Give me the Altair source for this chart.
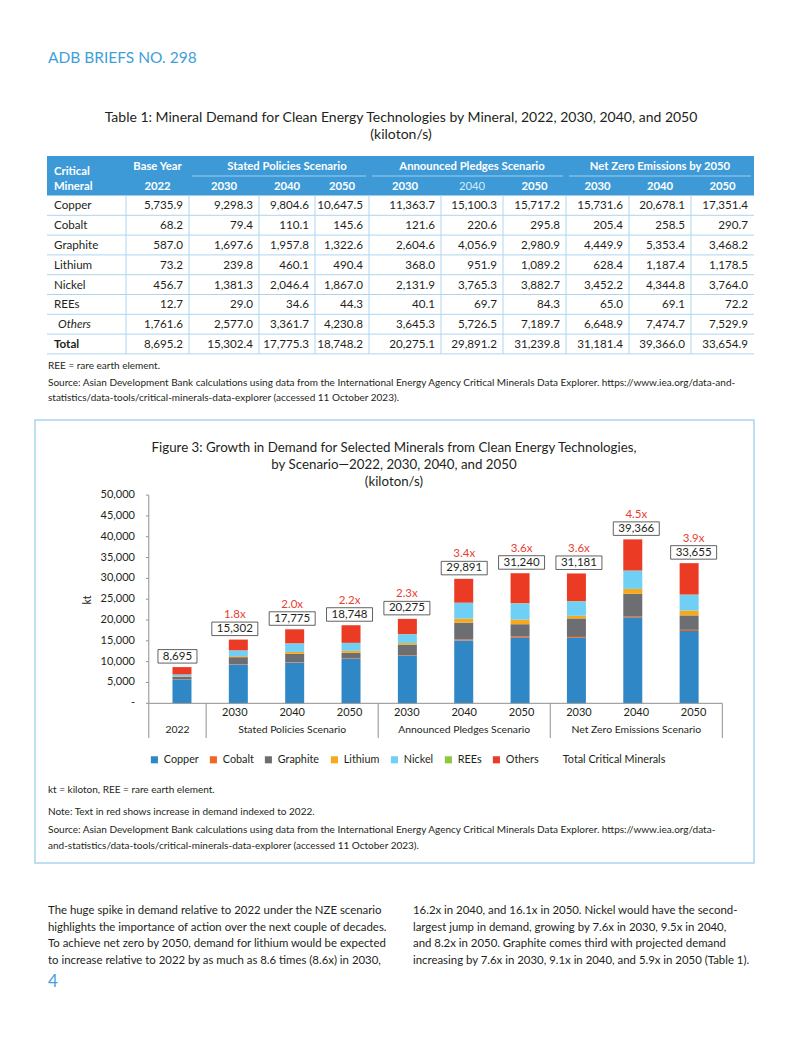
import altair as alt
import pandas as pd

FONT = "Lato"
DARK = "#231f20"
BLUE_TXT = "#3fa0d9"
HEAD_BLUE = "#3d9ad6"
GRID = "#aed5f0"
BOXLINE = "#a9d3ef"
RED = "#e8402f"
AXIS = "#8f8f8f"

# ------------------------------------------------------------------ data
minerals = ["Copper", "Cobalt", "Graphite", "Lithium", "Nickel", "REEs", "Others"]
copper = [5735.9, 9298.3, 9804.6, 10647.5, 11363.7, 15100.3, 15717.2, 15731.6, 20678.1, 17351.4]
cobalt = [68.2, 79.4, 110.1, 145.6, 121.6, 220.6, 295.8, 205.4, 258.5, 290.7]
graphite = [587.0, 1697.6, 1957.8, 1322.6, 2604.6, 4056.9, 2980.9, 4449.9, 5353.4, 3468.2]
lithium = [73.2, 239.8, 460.1, 490.4, 368.0, 951.9, 1089.2, 628.4, 1187.4, 1178.5]
nickel = [456.7, 1381.3, 2046.4, 1867.0, 2131.9, 3765.3, 3882.7, 3452.2, 4344.8, 3764.0]
rees = [12.7, 29.0, 34.6, 44.3, 40.1, 69.7, 84.3, 65.0, 69.1, 72.2]
others = [1761.6, 2577.0, 3361.7, 4230.8, 3645.3, 5726.5, 7189.7, 6648.9, 7474.7, 7529.9]
total = [8695.2, 15302.4, 17775.3, 18748.2, 20275.1, 29891.2, 31239.8, 31181.4, 39366.0, 33654.9]

col_years = ["2022", "2030", "2040", "2050", "2030", "2040", "2050", "2030", "2040", "2050"]
table_groups = [("Base Year", 1), ("Stated Policies Scenario", 3),
                ("Announced Pledges Scenario", 3), ("Net Zero Emissions by 2050", 3)]
chart_groups = [("2022", 1), ("Stated Policies Scenario", 3),
                ("Announced Pledges Scenario", 3), ("Net Zero Emissions Scenario", 3)]
growth_labels = ["", "1.8x", "2.0x", "2.2x", "2.3x", "3.4x", "3.6x", "3.6x", "4.5x", "3.9x"]
y_ticks = [0, 5000, 10000, 15000, 20000, 25000, 30000, 35000, 40000, 45000, 50000]
legend_extra = "Total Critical Minerals"
mineral_colors = ["#2f87c6", "#f26522", "#6d6e71", "#f7a81b", "#6fcff5", "#8dc63f", "#ec3b25"]

series = [copper, cobalt, graphite, lithium, nickel, rees, others]

# ------------------------------------------------------------------ layout
W, H = 786, 1000
OX, OY = 8, 8


def px(x):
    return x - OX


def py(y):
    return y - OY


ONE = pd.DataFrame({"_": [0]})


def T(s, x, y, size=12, color=DARK, align="left", weight="normal", style="normal", angle=0):
    return alt.Chart(ONE).mark_text(
        text=s, align=align, baseline="middle", font=FONT, fontSize=size,
        color=color, fontWeight=weight, fontStyle=style, angle=angle
    ).encode(x=alt.value(px(x)), y=alt.value(py(y)))


layers = []

# header
layers.append(T("ADB BRIEFS NO. 298", 48, 58, size=15.5, color=BLUE_TXT))

# table title
layers.append(T("Table 1: Mineral Demand for Clean Energy Technologies by Mineral, 2022, 2030, 2040, and 2050",
                401, 118, size=14, align="center"))
layers.append(T("(kiloton/s)", 401, 135, size=14, align="center"))

# ------------------------------------------------------------------ table
col_edges = [47, 126, 189, 259, 315, 369, 441, 503, 566, 629, 691, 754]
XS = alt.Scale(domain=list(range(len(col_edges))), range=[px(v) for v in col_edges], zero=False, nice=False)
YS = alt.Scale(domain=[0, 8], range=[py(195.5), py(353.9)], zero=False, nice=False)
HF = 11.3   # header font size
CF = 11.6   # cell font size

layers.append(alt.Chart(ONE).mark_rect(color=HEAD_BLUE).encode(
    x=alt.value(px(47)), x2=alt.value(px(754)), y=alt.value(py(156)), y2=alt.value(py(195.5))))

layers.append(T("Critical", 54, 172, size=HF, color="white", weight="bold"))
layers.append(T("Mineral", 54, 187, size=HF, color="white", weight="bold"))

grp_rows = []
start = 1
for name, n in table_groups:
    grp_rows.append({"name": name, "a": start, "b": start + n, "c": start + n / 2, "under": n > 1})
    start += n
grp_df = pd.DataFrame(grp_rows)
layers.append(alt.Chart(grp_df).mark_text(
    font=FONT, fontSize=HF, fontWeight="bold", color="white", baseline="middle", align="center"
).encode(x=alt.X("c:Q", scale=XS, axis=None), y=alt.value(py(166.5)), text="name:N"))
layers.append(alt.Chart(grp_df).transform_filter("datum.under").mark_rule(
    color="#9fd0f2", strokeWidth=1, xOffset=3, x2Offset=-3
).encode(x=alt.X("a:Q", scale=XS, axis=None), x2="b:Q", y=alt.value(py(176))))

yr_df = pd.DataFrame({"c": [i + 1.5 for i in range(len(col_years))], "yr": col_years,
                      "light": [i == 5 for i in range(len(col_years))]})
layers.append(alt.Chart(yr_df).transform_filter("!datum.light").mark_text(
    font=FONT, fontSize=HF, fontWeight="bold", color="white", baseline="middle", align="center"
).encode(x=alt.X("c:Q", scale=XS, axis=None), y=alt.value(py(186.5)), text="yr:N"))
layers.append(alt.Chart(yr_df).transform_filter("datum.light").mark_text(
    font=FONT, fontSize=HF, color="#d4eaf9", baseline="middle", align="center"
).encode(x=alt.X("c:Q", scale=XS, axis=None), y=alt.value(py(186.5)), text="yr:N"))

# grid lines
hl = pd.DataFrame({"r": list(range(1, 9)), "a": 0, "b": len(col_edges) - 1})
layers.append(alt.Chart(hl).mark_rule(color=GRID, strokeWidth=1).encode(
    x=alt.X("a:Q", scale=XS, axis=None), x2="b:Q", y=alt.Y("r:Q", scale=YS, axis=None)))
vl = pd.DataFrame({"c": list(range(1, len(col_edges) - 1)), "t": 0, "u": 8})
layers.append(alt.Chart(vl).mark_rule(color=GRID, strokeWidth=1).encode(
    x=alt.X("c:Q", scale=XS, axis=None), y=alt.Y("t:Q", scale=YS, axis=None), y2="u:Q"))

# row names
row_names = minerals + ["Total"]
names_df = pd.DataFrame({"ry": [i + 0.55 for i in range(len(row_names))], "name": row_names,
                         "kind": ["n"] * 6 + ["i", "b"]})
layers.append(alt.Chart(names_df).transform_filter("datum.kind == 'n'").mark_text(
    font=FONT, fontSize=CF, color=DARK, align="left", baseline="middle"
).encode(x=alt.value(px(54)), y=alt.Y("ry:Q", scale=YS, axis=None), text="name:N"))
layers.append(alt.Chart(names_df).transform_filter("datum.kind == 'i'").mark_text(
    font=FONT, fontSize=CF, color=DARK, align="left", baseline="middle", fontStyle="italic"
).encode(x=alt.value(px(58)), y=alt.Y("ry:Q", scale=YS, axis=None), text="name:N"))
layers.append(alt.Chart(names_df).transform_filter("datum.kind == 'b'").mark_text(
    font=FONT, fontSize=CF, color=DARK, align="left", baseline="middle", fontWeight="bold"
).encode(x=alt.value(px(54)), y=alt.Y("ry:Q", scale=YS, axis=None), text="name:N"))

# values
cells = []
for r, vals in enumerate(series + [total]):
    for c, v in enumerate(vals):
        cells.append({"xr": c + 2, "ry": r + 0.55, "label": f"{v:,.1f}"})
cells_df = pd.DataFrame(cells)
layers.append(alt.Chart(cells_df).mark_text(
    font=FONT, fontSize=CF, color=DARK, align="right", baseline="middle", dx=-6
).encode(x=alt.X("xr:Q", scale=XS, axis=None), y=alt.Y("ry:Q", scale=YS, axis=None), text="label:N"))

# table notes
layers.append(T("REE = rare earth element.", 48, 366, size=10))
layers.append(T("Source: Asian Development Bank calculations using data from the International Energy Agency Critical Minerals Data Explorer. https://www.iea.org/data-and-",
                48, 383, size=10))
layers.append(T("statistics/data-tools/critical-minerals-data-explorer (accessed 11 October 2023).", 48, 398, size=10))

# ------------------------------------------------------------------ figure box
layers.append(alt.Chart(ONE).mark_rect(fillOpacity=0, stroke=BOXLINE, strokeWidth=1.5).encode(
    x=alt.value(px(35)), x2=alt.value(px(754)), y=alt.value(py(420)), y2=alt.value(py(863))))

layers.append(T("Figure 3: Growth in Demand for Selected Minerals from Clean Energy Technologies,", 394, 448,
                size=13.3, align="center"))
layers.append(T("by Scenario\u20142022, 2030, 2040, and 2050", 394, 465, size=13.3, align="center"))
layers.append(T("(kiloton/s)", 394, 482, size=13.3, align="center"))

CX = alt.Scale(domain=[0, 10], range=[px(148.8), px(722.3)], zero=False, nice=False)
CY = alt.Scale(domain=[0, 50000], range=[py(703.3), py(495.1)], zero=False, nice=False)

# bars
bar_rows = []
for k in range(len(col_years)):
    for m, name in enumerate(minerals):
        bar_rows.append({"xc": k + 0.5, "mineral": name, "value": series[m][k], "ord": m})
bar_df = pd.DataFrame(bar_rows)
layers.append(alt.Chart(bar_df).mark_bar(size=19).encode(
    x=alt.X("xc:Q", scale=CX, axis=None),
    y=alt.Y("value:Q", stack="zero", scale=CY, axis=None),
    color=alt.Color("mineral:N",
                    scale=alt.Scale(domain=minerals + [legend_extra], range=mineral_colors + ["#ffffff"]),
                    legend=alt.Legend(orient="none", legendX=px(149), legendY=py(754), direction="horizontal",
                                      columns=8, title=None, symbolType="square", symbolSize=50,
                                      symbolStrokeWidth=0, labelFont=FONT, labelFontSize=10.8,
                                      labelColor=DARK, labelOffset=4, columnPadding=9, labelLimit=0)),
    order=alt.Order("ord:Q", sort="ascending"),
))

# total labels
tot_df = pd.DataFrame({"xc": [k + 0.5 for k in range(len(total))], "total": total,
                       "label": [f"{round(t):,}" for t in total], "g": growth_labels})
layers.append(alt.Chart(tot_df).transform_filter("datum.total < 10000").mark_rect(
    fill="white", stroke="#3a3a3a", strokeWidth=0.8, xOffset=-19.5, x2Offset=19.5, yOffset=-17.5, y2Offset=-4
).encode(x=alt.X("xc:Q", scale=CX, axis=None), x2="xc:Q", y=alt.Y("total:Q", scale=CY, axis=None), y2="total:Q"))
layers.append(alt.Chart(tot_df).transform_filter("datum.total >= 10000").mark_rect(
    fill="white", stroke="#3a3a3a", strokeWidth=0.8, xOffset=-23, x2Offset=23, yOffset=-17.5, y2Offset=-4
).encode(x=alt.X("xc:Q", scale=CX, axis=None), x2="xc:Q", y=alt.Y("total:Q", scale=CY, axis=None), y2="total:Q"))
layers.append(alt.Chart(tot_df).mark_text(
    font=FONT, fontSize=11.5, color=DARK, align="center", baseline="middle", dy=-10.5
).encode(x=alt.X("xc:Q", scale=CX, axis=None), y=alt.Y("total:Q", scale=CY, axis=None), text="label:N"))
layers.append(alt.Chart(tot_df).transform_filter("datum.g != ''").mark_text(
    font=FONT, fontSize=11.5, color=RED, align="center", baseline="middle", dy=-24.5
).encode(x=alt.X("xc:Q", scale=CX, axis=None), y=alt.Y("total:Q", scale=CY, axis=None), text="g:N"))

# y axis labels and ticks
tick_df = pd.DataFrame({"t": y_ticks, "label": ["-" if t == 0 else f"{t:,}" for t in y_ticks]})
layers.append(alt.Chart(tick_df).mark_text(
    font=FONT, fontSize=11, color=DARK, align="right", baseline="middle"
).encode(x=alt.value(px(135)), y=alt.Y("t:Q", scale=CY, axis=None), text="label:N"))
layers.append(alt.Chart(tick_df).mark_rule(color=AXIS, strokeWidth=1).encode(
    x=alt.value(px(146)), x2=alt.value(px(148.5)), y=alt.Y("t:Q", scale=CY, axis=None)))
layers.append(T("kt", 88, 600, size=10.5, angle=270, align="center"))

# axis frame
layers.append(alt.Chart(pd.DataFrame({"a": [0], "b": [10], "v": [0]})).mark_rule(color=AXIS, strokeWidth=1).encode(
    x=alt.X("a:Q", scale=CX, axis=None), x2="b:Q", y=alt.Y("v:Q", scale=CY, axis=None)))
layers.append(alt.Chart(pd.DataFrame({"a": [0], "top": [50000]})).mark_rule(color=AXIS, strokeWidth=1).encode(
    x=alt.X("a:Q", scale=CX, axis=None), y=alt.Y("top:Q", scale=CY, axis=None), y2=alt.value(py(738))))
bounds = []
pos = 0
for name, n in chart_groups:
    pos += n
    bounds.append(pos)
sep_df = pd.DataFrame({"s": bounds, "v": 0})
layers.append(alt.Chart(sep_df).mark_rule(color=AXIS, strokeWidth=1).encode(
    x=alt.X("s:Q", scale=CX, axis=None), y=alt.Y("v:Q", scale=CY, axis=None), y2=alt.value(py(738))))

# category labels
cat_df = pd.DataFrame({"xc": [k + 0.5 for k in range(1, len(col_years))], "yr": col_years[1:]})
layers.append(alt.Chart(cat_df).mark_text(
    font=FONT, fontSize=11, color=DARK, align="center", baseline="middle"
).encode(x=alt.X("xc:Q", scale=CX, axis=None), y=alt.value(py(713)), text="yr:N"))
g_rows = []
pos = 0
for name, n in chart_groups:
    g_rows.append({"xc": pos + n / 2, "name": name})
    pos += n
layers.append(alt.Chart(pd.DataFrame(g_rows)).mark_text(
    font=FONT, fontSize=10.4, color=DARK, align="center", baseline="middle"
).encode(x=alt.X("xc:Q", scale=CX, axis=None), y=alt.value(py(729.5)), text="name:N"))

# figure notes
layers.append(T("kt = kiloton, REE = rare earth element.", 48, 790, size=10))
layers.append(T("Note: Text in red shows increase in demand indexed to 2022.", 48, 812, size=10))
layers.append(T("Source: Asian Development Bank calculations using data from the International Energy Agency Critical Minerals Data Explorer. https://www.iea.org/data-",
                48, 830, size=10))
layers.append(T("and-statistics/data-tools/critical-minerals-data-explorer (accessed 11 October 2023).", 48, 846, size=10))

# body text
left_lines = [
    "The huge spike in demand relative to 2022 under the NZE scenario",
    "highlights the importance of action over the next couple of decades.",
    "To achieve net zero by 2050, demand for lithium would be expected",
    "to increase relative to 2022 by as much as 8.6 times (8.6x) in 2030,",
]
right_lines = [
    "16.2x in 2040, and 16.1x in 2050. Nickel would have the second-",
    "largest jump in demand, growing by 7.6x in 2030, 9.5x in 2040,",
    "and 8.2x in 2050. Graphite comes third with projected demand",
    "increasing by 7.6x in 2030, 9.1x in 2040, and 5.9x in 2050 (Table 1).",
]
for i, s in enumerate(left_lines):
    layers.append(T(s, 48, 911 + i * 16.6, size=11.4))
for i, s in enumerate(right_lines):
    layers.append(T(s, 413, 911 + i * 16.6, size=11.4))

layers.append(T("4", 48, 982, size=17, color=BLUE_TXT))

chart = alt.layer(*layers).resolve_scale(
    x="independent", y="independent", color="independent"
).properties(
    width=W, height=H, autosize=alt.AutoSizeParams(type="none"), padding=0
).configure_view(stroke=None)

chart.save("out.html", embed_options={"renderer": "svg", "actions": False})
